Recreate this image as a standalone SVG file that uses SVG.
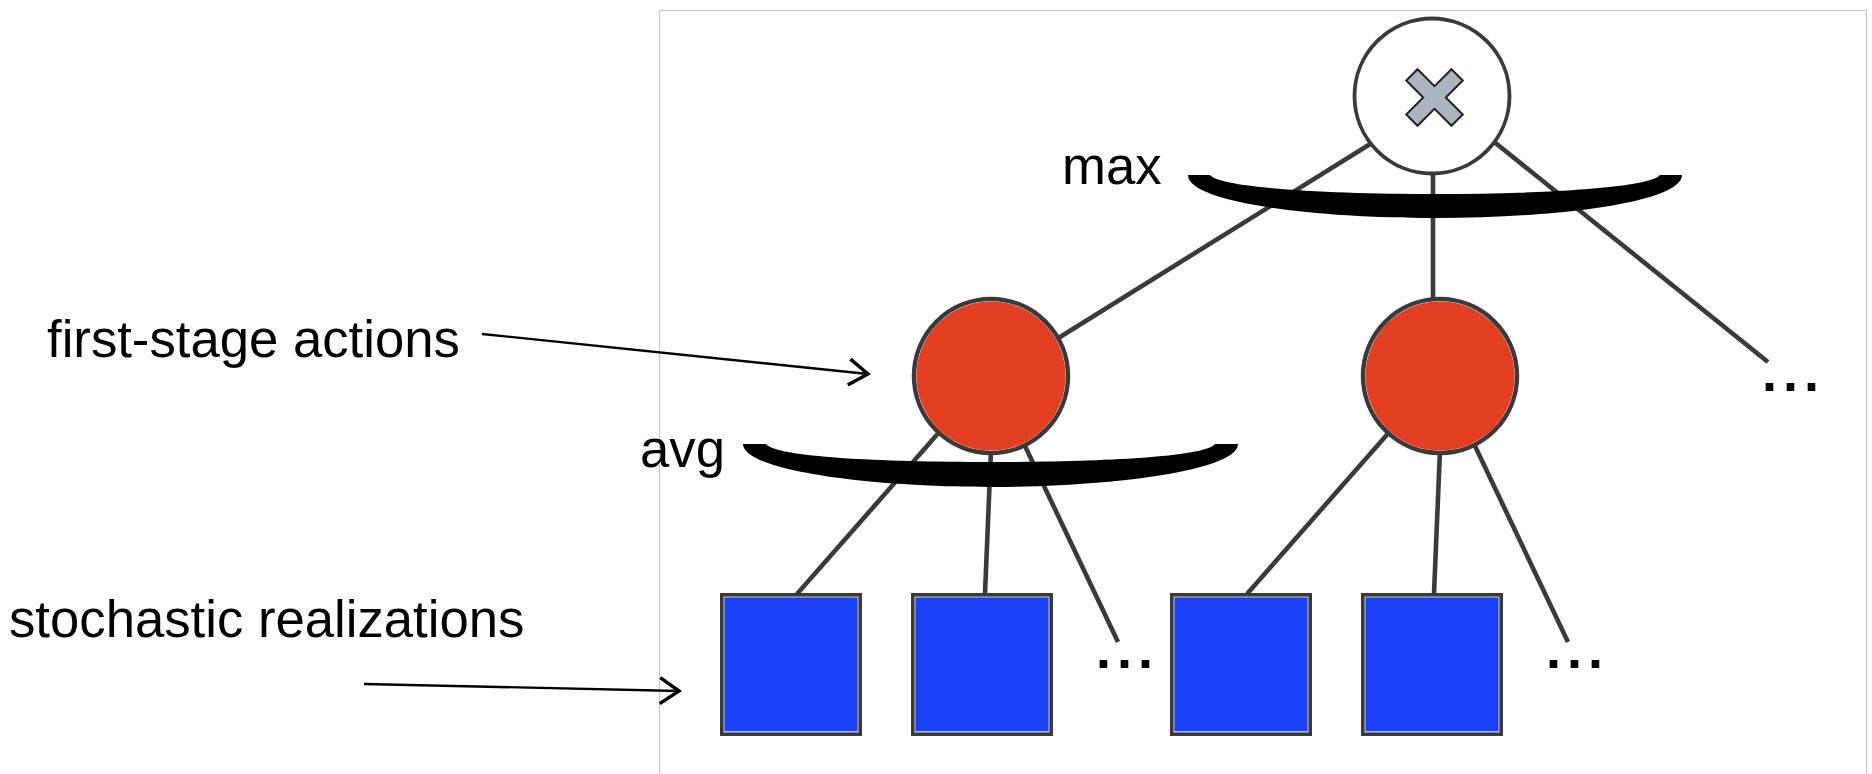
<svg xmlns="http://www.w3.org/2000/svg" width="1872" height="774" viewBox="0 0 1872 774">
  <defs>
    <style>
      .label { font-family: "Liberation Sans", Arial, sans-serif; font-size: 52.7px; fill: #000; }
      .dots { font-family: "Liberation Sans", Arial, sans-serif; font-size: 54px; font-weight: bold; letter-spacing: 6px; fill: #000; }
      .edge { stroke: #3a3a3a; stroke-width: 4.6; stroke-linecap: butt; fill: none; }
      .pointer { stroke: #000; stroke-width: 2.3; fill: none; }
      .ring { fill: #fff; stroke: #3a3a3a; stroke-width: 4.5; }
      .action { fill: #e23e22; }
      .frame-box { fill: #3a3a3a; }
      .inner-edge { fill: #c8c8c8; }
      .outcome { fill: #1a41f6; }
      .brace { fill: #000; }
    </style>
    <marker id="chevron" markerUnits="userSpaceOnUse" markerWidth="30" markerHeight="34" viewBox="-4 -17 28 34" refX="20" refY="0" orient="auto">
      <path d="M1,-13 L20,0 L1,13" fill="none" stroke="#000" stroke-width="3.4"/>
    </marker>
  </defs>

  <rect width="1872" height="774" fill="#fff"/>

  <!-- panel outline -->
  <rect x="659.5" y="10.5" width="1207" height="800" fill="none" stroke="#c8c8c8" stroke-width="1.2"/>

  <!-- tree edges -->
  <g id="connectors">
    <line class="edge" x1="1371" y1="143.5" x2="1056" y2="339.5"/>
    <line class="edge" x1="1433" y1="170" x2="1433" y2="300"/>
    <line class="edge" x1="1493" y1="141" x2="1768" y2="362"/>

    <line class="edge" x1="938" y1="433.5" x2="797" y2="594"/>
    <line class="edge" x1="991" y1="450" x2="985" y2="594"/>
    <line class="edge" x1="1025" y1="446" x2="1118" y2="642"/>

    <line class="edge" x1="1388" y1="433.5" x2="1247" y2="594"/>
    <line class="edge" x1="1440" y1="450" x2="1434" y2="594"/>
    <line class="edge" x1="1475" y1="446" x2="1568" y2="642"/>

    <line class="pointer" x1="482" y1="334" x2="868" y2="374" marker-end="url(#chevron)"/>
    <line class="pointer" x1="364" y1="684" x2="679" y2="691" marker-end="url(#chevron)"/>
  </g>

  <!-- aggregation braces -->
  <g id="brace-max">
    <path class="brace" d="M1188,175 L1210,175 C1220,188 1330,194 1435,194 C1540,194 1650,188 1660,175 L1682,175 C1682,202 1560,218 1435,218 C1310,218 1188,202 1188,175 Z"/>
    <text class="label" x="1062" y="184">max</text>
  </g>
  <g id="brace-avg">
    <path class="brace" d="M743,444 L766,444 C776,457 880,462 990,462 C1100,462 1205,457 1215,444 L1238,444 C1238,470 1115,487 990,487 C865,487 743,470 743,444 Z"/>
    <text class="label" x="640" y="467">avg</text>
  </g>

  <!-- decision root -->
  <g id="root">
    <circle cx="1432" cy="96" r="77.5" fill="#fff" stroke="#3a3a3a" stroke-width="3.8"/>
    <path transform="translate(1434.5,97.5) rotate(45)" d="M-8,-32 L8,-32 L8,-8 L32,-8 L32,8 L8,8 L8,32 L-8,32 L-8,8 L-32,8 L-32,-8 L-8,-8 Z" fill="#aab5c0" stroke="#222" stroke-width="2" stroke-linejoin="miter"/>
  </g>

  <!-- first-stage actions -->
  <g id="action-1">
    <circle class="ring" cx="991" cy="376" r="77"/>
    <circle class="action" cx="991" cy="376" r="74.6"/>
  </g>
  <g id="action-2">
    <circle class="ring" cx="1440" cy="376" r="77"/>
    <circle class="action" cx="1440" cy="376" r="74.6"/>
  </g>

  <!-- stochastic realizations -->
  <g id="outcome-1">
    <rect class="frame-box" x="720" y="593" width="142" height="143"/>
    <rect class="inner-edge" x="723.5" y="596.5" width="135" height="136"/>
    <rect class="outcome" x="724.5" y="597.5" width="133" height="133.5"/>
  </g>
  <g id="outcome-2">
    <rect class="frame-box" x="911" y="593" width="142" height="143"/>
    <rect class="inner-edge" x="914.5" y="596.5" width="135" height="136"/>
    <rect class="outcome" x="915.5" y="597.5" width="133" height="133.5"/>
  </g>
  <g id="outcome-3">
    <rect class="frame-box" x="1170" y="593" width="142" height="143"/>
    <rect class="inner-edge" x="1173.5" y="596.5" width="135" height="136"/>
    <rect class="outcome" x="1174.5" y="597.5" width="133" height="133.5"/>
  </g>
  <g id="outcome-4">
    <rect class="frame-box" x="1361" y="593" width="142" height="143"/>
    <rect class="inner-edge" x="1364.5" y="596.5" width="135" height="136"/>
    <rect class="outcome" x="1365.5" y="597.5" width="133" height="133.5"/>
  </g>

  <!-- continuation marks -->
  <g id="more-actions"><text class="dots" x="1762" y="391">...</text></g>
  <g id="more-outcomes-1"><text class="dots" x="1096" y="668">...</text></g>
  <g id="more-outcomes-2"><text class="dots" x="1546" y="668">...</text></g>

  <!-- side captions -->
  <g id="caption-actions"><text class="label" x="47" y="357">first-stage actions</text></g>
  <g id="caption-realizations"><text class="label" x="9" y="637">stochastic realizations</text></g>
</svg>
